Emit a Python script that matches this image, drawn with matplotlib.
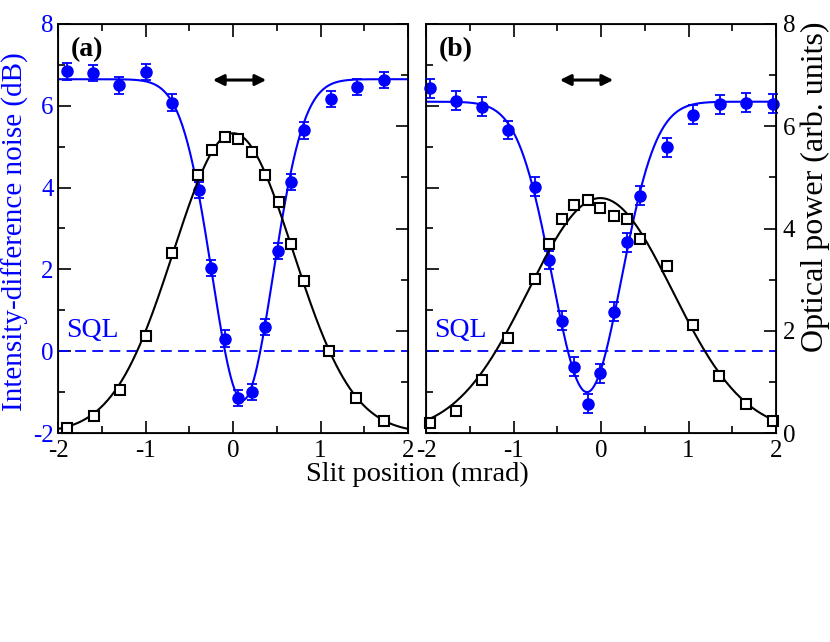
import numpy as np
import matplotlib
matplotlib.use("Agg")
import matplotlib.pyplot as plt
from matplotlib.ticker import MultipleLocator

plt.rcParams['font.family'] = ['Liberation Serif', 'DejaVu Serif']
plt.rcParams['axes.unicode_minus'] = False

BLUE = '#0000ff'

# panel (a): noise (dB) and optical power (arb. units) vs slit position (mrad)
xa_noise = [-1.90, -1.60, -1.30, -1.00, -0.70, -0.39, -0.25, -0.09, 0.06,
            0.22, 0.36, 0.51, 0.66, 0.81, 1.12, 1.42, 1.72]
ya_noise = [6.84, 6.80, 6.50, 6.82, 6.08, 3.94, 2.03, 0.31, -1.14,
            -1.00, 0.59, 2.45, 4.14, 5.40, 6.16, 6.46, 6.63]
xa_power = [-1.90, -1.59, -1.29, -1.00, -0.70, -0.40, -0.24, -0.09, 0.06,
            0.22, 0.36, 0.52, 0.66, 0.81, 1.10, 1.41, 1.72]
ya_power = [0.10, 0.33, 0.84, 1.90, 3.53, 5.04, 5.53, 5.78, 5.75,
            5.50, 5.05, 4.52, 3.69, 2.97, 1.60, 0.69, 0.23]

# panel (b)
xb_noise = [-1.96, -1.66, -1.36, -1.06, -0.76, -0.60, -0.45, -0.31, -0.15,
            -0.01, 0.15, 0.30, 0.45, 0.75, 1.05, 1.36, 1.66, 1.96]
yb_noise = [6.43, 6.12, 5.98, 5.41, 4.02, 2.23, 0.75, -0.38, -1.28,
            -0.54, 0.97, 2.66, 3.80, 4.99, 5.78, 6.04, 6.08, 6.05]
xb_power = [-1.96, -1.66, -1.36, -1.06, -0.76, -0.60, -0.45, -0.31, -0.15,
            -0.01, 0.15, 0.30, 0.45, 0.75, 1.05, 1.35, 1.66, 1.96]
yb_power = [0.20, 0.44, 1.04, 1.85, 3.01, 3.69, 4.19, 4.46, 4.56,
            4.40, 4.25, 4.19, 3.80, 3.27, 2.12, 1.12, 0.56, 0.23]

err_a = 0.2
err_b = 0.23

# fit parameters for the noise curves: plateau, depth, centre, width
fit_noise_a = (6.65, 7.85, 0.11, 0.495)
fit_noise_b = (6.10, 7.10, -0.16, 0.56)

# arrows (start, end) in mrad
arrow_a = (-0.23, 0.38)
arrow_b = (-0.47, 0.14)


def gauss_fit(x, y):
    # gaussian fit of the optical power via a weighted log-parabola
    x = np.asarray(x)
    y = np.asarray(y)
    c2, c1, c0 = np.polyfit(x, np.log(y), 2, w=y)
    xs = np.linspace(-2, 2, 400)
    return xs, np.exp(c0 + c1 * xs + c2 * xs ** 2)


def noise_curve(p):
    plateau, depth, x0, w = p
    xs = np.linspace(-2, 2, 400)
    return xs, plateau - depth * np.exp(-((xs - x0) / w) ** 2)


fig = plt.figure(figsize=(8.3, 6.42), dpi=100)
ax_a = fig.add_axes([58 / 830, 1 - 433 / 642, 350 / 830, 409 / 642])
ax_b = fig.add_axes([426 / 830, 1 - 433 / 642, 350 / 830, 409 / 642])

panels = [(ax_a, xa_noise, ya_noise, xa_power, ya_power, err_a, fit_noise_a, arrow_a, '(a)'),
          (ax_b, xb_noise, yb_noise, xb_power, yb_power, err_b, fit_noise_b, arrow_b, '(b)')]

for ax, xn, yn, xp, yp, err, fitp, arr, tag in panels:
    tw = ax.twinx()

    ax.axhline(0, color=BLUE, lw=1.3, ls=(0, (6, 3.5)))
    xs, ys = noise_curve(fitp)
    ax.plot(xs, ys, color=BLUE, lw=1.5)
    ax.errorbar(xn, yn, yerr=err, fmt='o', color=BLUE, ms=8, elinewidth=1.3,
                capsize=3.5, capthick=1.3, clip_on=False, zorder=3)
    ax.text(-1.91, 0.35, 'SQL', color=BLUE, fontsize=20)
    ax.text(-1.86, 7.37, tag, fontsize=20, fontweight='bold', va='center')
    ax.annotate('', xy=(arr[1], 6.63), xytext=(arr[0], 6.63),
                arrowprops=dict(arrowstyle='<|-|>', color='k', lw=2.2,
                                mutation_scale=16, shrinkA=0, shrinkB=0))

    xs, ps = gauss_fit(xp, yp)
    tw.plot(xs, ps, color='k', lw=1.5)
    tw.plot(xp, yp, 's', mfc='white', mec='k', mew=1.5, ms=7.5, clip_on=False)

    ax.set_xlim(-2, 2)
    ax.set_ylim(-2, 8)
    tw.set_ylim(0, 8)
    ax.xaxis.set_major_locator(MultipleLocator(1))
    ax.xaxis.set_minor_locator(MultipleLocator(0.5))
    ax.yaxis.set_major_locator(MultipleLocator(2))
    ax.yaxis.set_minor_locator(MultipleLocator(1))
    tw.yaxis.set_major_locator(MultipleLocator(2))
    tw.yaxis.set_minor_locator(MultipleLocator(1))

    ax.tick_params(axis='x', which='both', direction='in', top=True, labelsize=18, pad=5)
    ax.tick_params(axis='y', which='both', direction='in', labelsize=18, pad=3,
                   colors=BLUE)
    tw.tick_params(axis='y', which='both', direction='in', labelsize=18, pad=5)
    for a in (ax, tw):
        a.tick_params(which='major', length=9, width=1.2)
        a.tick_params(which='minor', length=5, width=1.2)
    ax.tick_params(axis='y', which='both', color='k')
    for s in ax.spines.values():
        s.set_linewidth(1.3)

    if ax is ax_a:
        tw.set_yticklabels([])
    else:
        ax.set_yticklabels([])

fig.text(15 / 830, 1 - 232 / 642, 'Intensity-difference noise (dB)', fontsize=21,
         color=BLUE, rotation=90, ha='center', va='center')
fig.text(815 / 830, 1 - 187 / 642, 'Optical power (arb. units)', fontsize=23,
         rotation=90, ha='center', va='center')
fig.text(417 / 830, 1 - 481 / 642, 'Slit position (mrad)', fontsize=20.5,
         ha='center', va='baseline')

fig.savefig('out.png', dpi=100)
